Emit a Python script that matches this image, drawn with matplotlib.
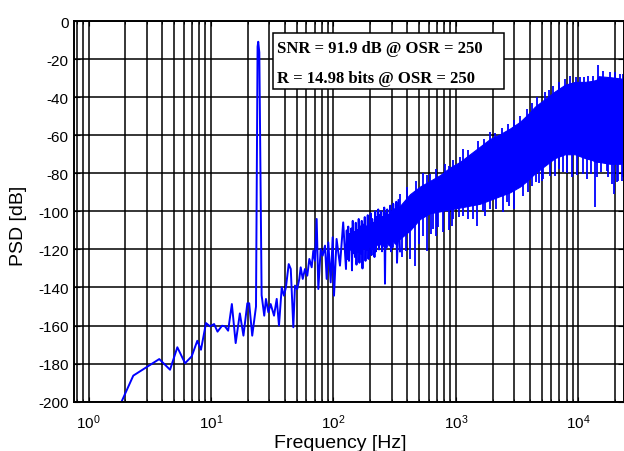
import numpy as np
import matplotlib
matplotlib.use('Agg')
import matplotlib.pyplot as plt
from matplotlib.patches import Rectangle

plt.rcParams['font.family'] = 'Liberation Sans'
plt.rcParams['mathtext.fontset'] = 'custom'
plt.rcParams['mathtext.rm'] = 'Liberation Sans'
plt.rcParams['mathtext.default'] = 'regular'
plt.rcParams['axes.unicode_minus'] = False

# sparse part of the spectrum (low bins, tone, first noise bins)
f_line = [1.46, 2.32, 3.78, 4.63, 5.31, 6.14, 6.95, 7.73, 8.28, 9.10, 9.81, 10.6,
          11.3, 12.3, 13.0, 13.8, 14.8, 15.9, 17.2, 18.4, 19.8, 20.5, 21.7, 23.3,
          24.0, 24.3, 24.8, 25.9, 27.2, 28.1, 29.4, 30.7, 32.7, 34.4, 35.9, 37.8,
          39.4, 40.9, 43.1, 44.8, 47.0, 48.5, 50.6, 52.6, 54.0, 56.1, 58.5, 61.1,
          63.5, 66.4, 68.4, 70.6, 72.9, 75.2, 78.6, 81.6, 85.3, 88.0, 90.7, 94.9,
          98.5, 101, 106, 113, 120, 126.5, 128.3, 130.1, 132, 133.8, 135.7, 137.7,
          139.7, 141.6, 143.6, 145.7, 147.7, 149.8, 152, 154.1, 156.3, 158.5, 160.7,
          163.0, 165.3, 167.7, 170.1, 172.5, 175, 177.4, 180, 182.5, 185.1, 187.7,
          190.4, 193.1, 195.8, 198.6, 201.4, 204.3, 207.2, 210.1, 213.1, 216.1, 219.2,
          222.3, 225.5, 228.7, 232, 235.2, 238.5, 241.9, 245.4, 248.9, 252.4, 256.0,
          259.6, 263.3, 267.1, 270.9, 274.7, 278.6, 282.6, 286.6, 290.7, 294.8, 299,
          303.2, 307.5, 311.9, 316.3, 320.8, 325.4, 330.0, 334.7, 339.4, 349.1]
psd_line = [-215, -186.3, -177.6, -183.2, -171.4, -179.8, -176.2, -168.0, -172.7, -158.7,
            -160.4, -159.2, -163.2, -160.1, -160.4, -162.7, -148.7, -169.2, -153.6, -165.3,
            -148.3, -148.3, -165.3, -150, -13.5, -10.9, -16.5, -144, -154.8, -146, -153,
            -148.7, -154.8, -146, -160, -139.9, -144.3, -139.9, -127.7, -130.3, -160.9,
            -139, -140.8, -135.5, -129.4, -135.5, -130.3, -133.8, -125, -129.4, -120.7,
            -125.9, -104, -140.8, -119.8, -123.3, -118, -135.5, -116.3, -137.3, -113.6,
            -144.3, -114.5, -128.5, -105.8, -130.3, -110, -125, -108, -126, -112, -120,
            -109, -131, -105, -122, -111, -124, -106, -128, -110, -121, -104, -127, -108,
            -122, -105, -130, -107, -119, -103, -126, -108, -120, -102, -125, -107, -118,
            -101, -123, -104, -119, -106, -124, -100, -121, -103, -117, -99,
            -120, -102, -117, -100, -121, -103, -118, -98, -138, -101, -119, -99, -116,
            -102, -118, -97, -121, -100, -119, -96, -114, -99, -117, -95, -127, -116, -94,
            -121]

# dense noise band (upper / lower edge of the solid blue area)
f_band = [200, 260, 340, 421, 508, 614, 740, 893, 1079, 1301, 1571, 1895, 2287, 2759,
          3327, 3800, 4415, 5327, 6427, 7760, 9363, 11300, 12880, 13900, 14290, 14600,
          18070, 24000]
band_top = [-110, -104, -98, -91, -87, -84, -81, -77, -74, -70, -66, -62, -59.5, -56.5,
            -53, -49.5, -45, -41, -37, -33.5, -32, -32, -31.5, -31, -30.5, -29, -29.5,
            -30.5]
band_bot = [-118, -117, -115, -110, -104, -101, -100, -99, -98, -97, -96, -94, -92, -90,
            -87, -84, -80, -76, -72, -70, -70, -72, -73, -74, -74, -74, -75, -75]

# spikes sticking out of the band
f_up = [813, 1148, 1521, 1895, 2360, 2673, 3327, 3820, 4560, 5330, 6230, 7760,
        8530, 10290, 12020, 14510, 18070, 21830, 613, 877, 1085,
        349, 400, 470, 540, 580, 690, 950, 1250, 1700, 2100, 3000, 4200, 5800, 7000,
        9600, 11000, 13200, 16000, 20000, 23000]
psd_up = [-75, -67, -63, -58.5, -56, -54, -49.7, -46.2, -40, -37.5, -34, -30.5,
          -29, -29.6, -28.7, -23.1, -26.6, -27.8, -80.4, -76, -71.6,
          -91, -87, -84, -80, -81, -78, -73, -68, -62, -59, -52, -43, -36, -32,
          -29.5, -29.5, -29, -26.5, -27, -28]
f_dn = [463, 541, 580, 653, 687, 787, 877, 923, 951, 1147, 1384, 1493, 1726, 1895,
        2080, 2122, 2432, 2723, 2992, 4150, 4500, 5010, 5160, 5850, 6430, 7510, 8900,
        10940, 12580, 13640, 15180, 16990, 18670, 19490, 20750, 21130, 22520,
        360, 390, 420, 500, 620, 720, 1050, 1250, 1650, 2600, 3500, 3900, 4800, 6900,
        8100, 9800, 11700, 14300, 17500, 23300]
psd_dn = [-128.5, -113, -121, -109.3, -112.8, -111, -110, -107.5, -104, -102.3, -104,
          -107.5, -102.3, -99, -93.5, -98.8, -100.5, -97, -98.8, -86.5, -84.7, -83.9,
          -83, -81.3, -81.3, -79.5, -82.1, -80.4, -80.4, -97.9, -79.5, -78.6, -85.6,
          -90.9, -84.7, -83.9, -83.9,
          -124, -121, -125, -117, -112, -108, -103, -104, -100, -95, -92, -90, -85, -78,
          -80, -81, -83, -82, -82, -82]

blue = '#0000ff'
fig = plt.figure(figsize=(6.24, 4.52), dpi=100)
ax = fig.add_axes([74/624, 1-402.7/452, 550/624, 380.7/452])

lf = np.log10(f_band)
mid = (np.array(band_top) + np.array(band_bot)) / 2
ax.fill_between(f_band, band_bot, band_top, color=blue, lw=0.8, edgecolor=blue, zorder=2)
ax.vlines(f_up, np.interp(np.log10(f_up), lf, mid), psd_up, color=blue, lw=1.3, zorder=2)
ax.vlines(f_dn, np.interp(np.log10(f_dn), lf, mid), psd_dn, color=blue, lw=1.3, zorder=2)
ax.plot(f_line, psd_line, color=blue, lw=1.4, zorder=2)

ax.set_xscale('log')
ax.set_xlim(0.761, 23550)
ax.set_ylim(-200, 0)
ax.set_yticks(np.arange(-200, 1, 20))
ax.set_xticks([1, 10, 100, 1000, 10000])
ax.set_xticklabels(['$10^0$', '$10^1$', '$10^2$', '$10^3$', '$10^4$'])
ax.grid(True, which='both', color='black', lw=1.1, zorder=1)
ax.set_axisbelow(True)
ax.tick_params(which='both', direction='in', top=True, right=True, labelsize=11)
ax.tick_params(axis='y', pad=4, length=4)
ax.tick_params(axis='x', pad=8)
for s in ax.spines.values():
    s.set_linewidth(1.4)

ax.set_xlabel('Frequency [Hz]', fontsize=14)
ax.set_ylabel('PSD [dB]', fontsize=14)
ax.xaxis.set_label_coords(0.4845, -0.086)
ax.yaxis.set_label_coords(-0.086, 0.464)

fig.add_artist(Rectangle((273/624, 1-90/452), 231/624, 56/452, transform=fig.transFigure,
                         facecolor='white', edgecolor='black', lw=1.1, zorder=5))
fig.text(277/624, 1-53/452, 'SNR = 91.9 dB @ OSR = 250', family='Liberation Serif',
         weight='bold', fontsize=12, va='baseline', zorder=6)
fig.text(277/624, 1-83/452, 'R = 14.98 bits @ OSR = 250', family='Liberation Serif',
         weight='bold', fontsize=12, va='baseline', zorder=6)

fig.savefig('out.png', dpi=100)
